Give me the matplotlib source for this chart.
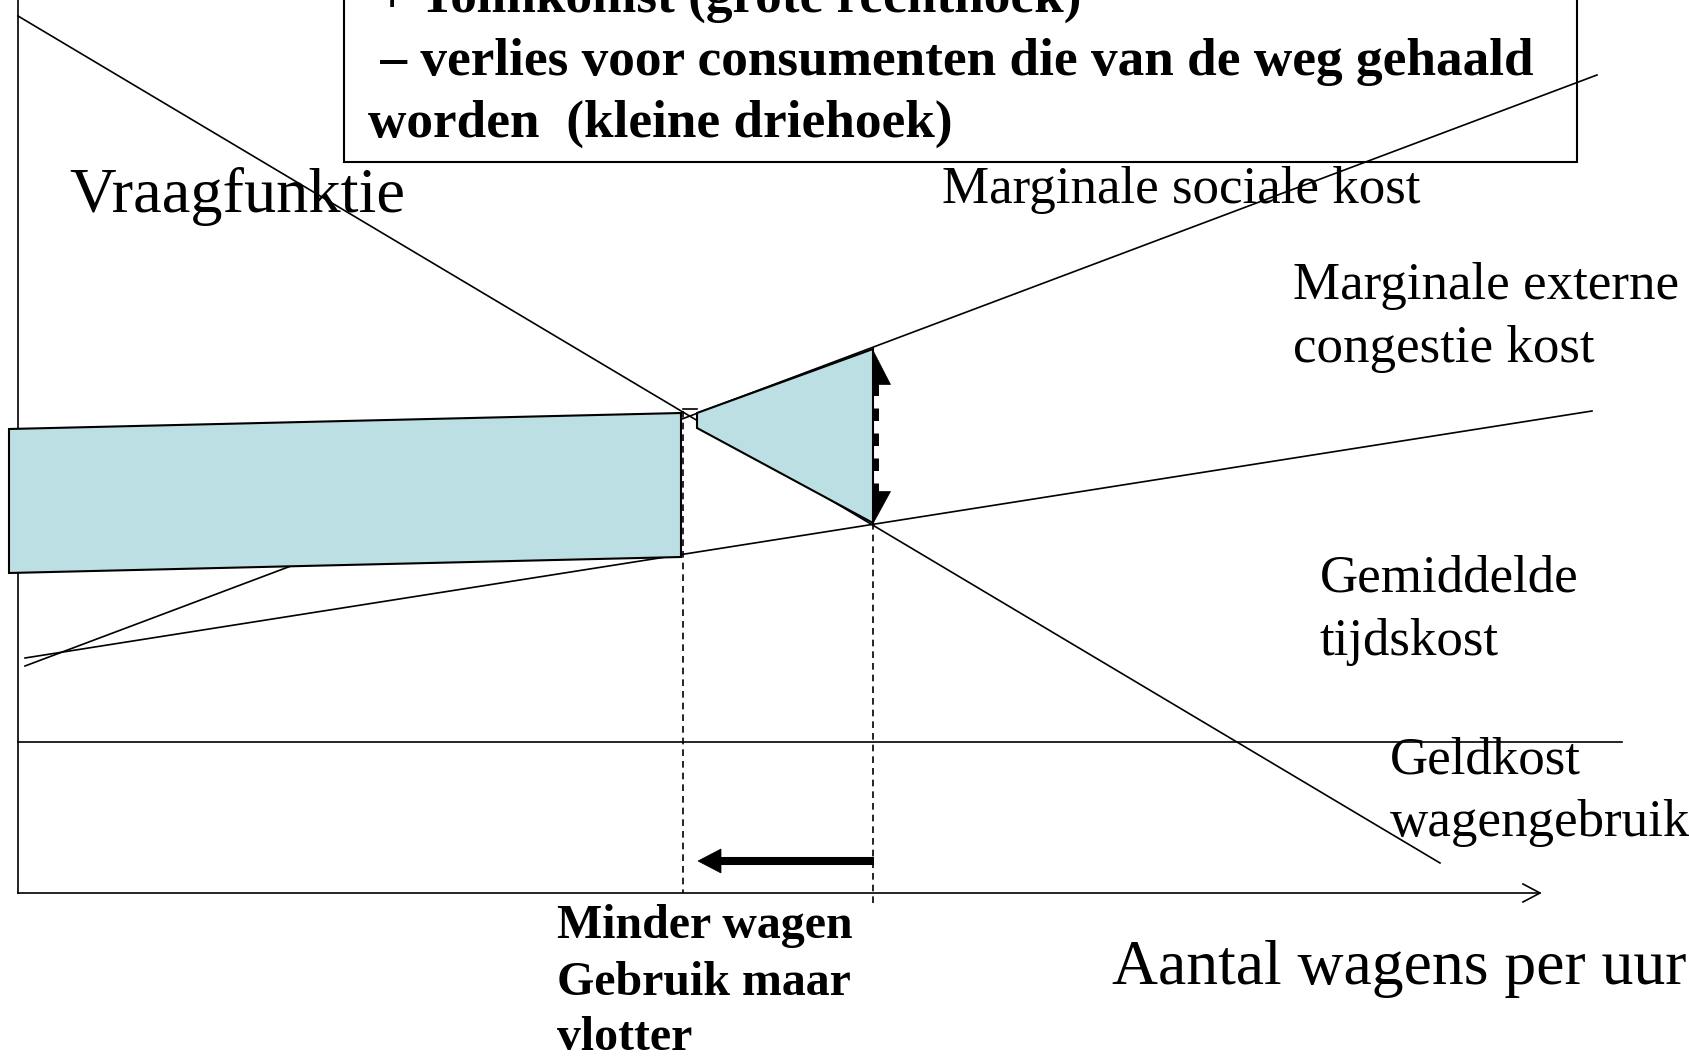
import matplotlib
matplotlib.use("Agg")
import matplotlib.pyplot as plt
from matplotlib.patches import Polygon, Rectangle

plt.rcParams['font.family'] = ['Liberation Serif', 'DejaVu Serif']

# diagram coordinates (pixel-like units, y grows downward)
demandX = [18, 1440]
demandY = [16, 863]
socialX = [25, 1597]
socialY = [666, 75]
timeX = [25, 1592]
timeY = [658, 411]
moneyX = [18, 1622]
moneyY = [742, 742]

rectX = [9, 681, 681, 9]
rectY = [429, 413, 557, 573]
triX = [697, 873, 873, 697]
triY = [413, 349, 523, 428]

qNew = 683
qOld = 873
axisY = 893

boxLines = ["+ Tolinkomst (grote rechthoek)",
            " \u2013 verlies voor consumenten die van de weg gehaald",
            "worden  (kleine driehoek)"]
noteLines = ["Minder wagen", "Gebruik maar", "vlotter"]

fill = '#bbdfe2'

fig = plt.figure(figsize=(16.89, 10.57), dpi=100)
ax = fig.add_axes([0, 0, 1, 1])
ax.set_xlim(0, 1689)
ax.set_ylim(1057, 0)
ax.axis('off')

# axes of the diagram
ax.plot([18, 18], [0, axisY], color='black', lw=1.2)
ax.plot([18, 1540], [axisY, axisY], color='black', lw=1.2)
ax.plot([1523, 1540, 1523], [884, axisY, 902], color='black', lw=1.2)

# text box (drawn first so the cost line runs over it)
ax.add_patch(Rectangle((344, -10), 1233, 172, facecolor='white',
                       edgecolor='black', lw=1.5, zorder=1))
for txt, x, y in zip(boxLines, [377, 367, 368], [12, 75, 137]):
    ax.text(x, y, txt, fontsize=38.3, fontweight='bold', va='baseline',
            ha='left', zorder=7)

# curves
ax.plot(demandX, demandY, color='black', lw=1.2, zorder=2)
ax.plot(socialX, socialY, color='black', lw=1.2, zorder=2)
ax.plot(timeX, timeY, color='black', lw=1.2, zorder=2)
ax.plot(moneyX, moneyY, color='black', lw=1.2, zorder=2)

# shaded areas
ax.add_patch(Polygon(list(zip(rectX, rectY)), closed=True, facecolor=fill,
                     edgecolor='black', lw=1.5, zorder=3))
ax.add_patch(Polygon(list(zip(triX, triY)), closed=True, facecolor=fill,
                     edgecolor='black', lw=1.5, zorder=3))
ax.plot([683, 697], [409, 409], color='black', lw=1.2, zorder=4)

# dashed guides
ax.plot([qNew, qNew], [411, axisY], color='black', lw=1.2, ls=(0, (4, 3)), zorder=4)
ax.plot([qOld, qOld], [523, 905], color='black', lw=1.2, ls=(0, (4, 3)), zorder=4)

# dashed double arrow (external congestion cost)
ax.plot([875.5, 875.5], [383, 492], color='black', lw=5, ls=(0, (1.8, 1.8)), zorder=5)
ax.add_patch(Polygon([(872, 349), (872, 384), (890, 384)], closed=True,
                     facecolor='black', edgecolor='black', lw=0.5, zorder=5))
ax.add_patch(Polygon([(872, 524), (872, 491), (890, 491)], closed=True,
                     facecolor='black', edgecolor='black', lw=0.5, zorder=5))

# arrow: fewer cars
ax.plot([qOld + 1, 716], [861, 861], color='black', lw=5.8, solid_capstyle='butt', zorder=5)
ax.add_patch(Polygon([(698, 861), (721, 849), (721, 873)], closed=True,
                     facecolor='black', edgecolor='black', lw=0.5, zorder=5))

# labels
ax.text(69, 212, "Vraagfunktie", fontsize=46.4, va='baseline')
ax.text(942, 203, "Marginale sociale kost", fontsize=38.2, va='baseline')
ax.text(1293, 299, "Marginale externe", fontsize=38.2, va='baseline')
ax.text(1293, 362, "congestie kost", fontsize=38.2, va='baseline')
ax.text(1320, 591, "Gemiddelde", fontsize=38.2, va='baseline')
ax.text(1320, 655, "tijdskost", fontsize=38.2, va='baseline')
ax.text(1390, 773, "Geldkost", fontsize=38.2, va='baseline')
ax.text(1390, 836, "wagengebruik", fontsize=38.2, va='baseline')
ax.text(1112, 984, "Aantal wagens per uur", fontsize=45.8, va='baseline')
for txt, y in zip(noteLines, [938, 995, 1050]):
    ax.text(557, y, txt, fontsize=34.5, fontweight='bold', va='baseline')

fig.savefig('out.png', dpi=100)
